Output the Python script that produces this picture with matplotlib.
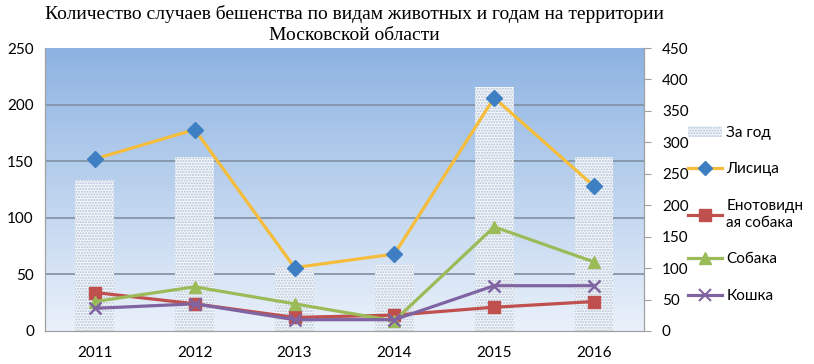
import matplotlib
matplotlib.use('Agg')
from matplotlib import pyplot as plt
from matplotlib.lines import Line2D
from matplotlib.patches import Patch
import numpy as np

############## Data ##############

years = ['2011', '2012', '2013', '2014', '2015', '2016']
total = [240, 277, 103, 107, 388, 277]          # За год (right axis)
fox = [152, 178, 56, 68, 206, 128]              # Лисица
raccoon = [34, 24, 12, 14, 21, 26]              # Енотовидная собака
dog = [26, 39, 24, 9, 92, 61]                   # Собака
cat = [20, 24, 10, 10, 40, 40]                  # Кошка

title = 'Количество случаев бешенства по видам животных и годам на территории\nМосковской области'

plt.rcParams['font.family'] = ['Lato', 'DejaVu Sans']

fig = plt.figure(figsize=(8.14, 3.64), dpi=100)
ax2 = fig.add_axes([0.0553, 0.0907, 0.7357, 0.7773])
ax = ax2.twinx()
ax.yaxis.tick_left()

x = np.arange(len(years))

# gradient background on the bottom axes
grad = np.linspace(0, 1, 256).reshape(-1, 1)
top = np.array([0x8d, 0xb3, 0xe2]) / 255
bot = np.array([0xea, 0xf1, 0xfa]) / 255
img = top * (1 - grad[:, :, None]) + bot * grad[:, :, None]
ax2.imshow(img, extent=[0, 1, 0, 1], transform=ax2.transAxes, aspect='auto', zorder=0)

ax.set_xlim(-0.5, 5.5)
ax2.set_xlim(-0.5, 5.5)
ax.set_ylim(0, 250)
ax2.set_ylim(0, 450)
left_ticks = np.arange(0, 251, 50)
ax.set_yticks(left_ticks)
ax2.set_yticks(range(0, 451, 50))

# gridlines follow the left scale, drawn below the bars
ax2.hlines(left_ticks[1:-1] * 450 / 250, -0.5, 5.5, color='#7f8fa2', lw=1.2, zorder=1)

# bars on the right axis, lines on the left one
ax2.bar(x, total, width=0.39, color='#f4f7fb', edgecolor='#b3c2d6',
        hatch='......', linewidth=0, zorder=2)

ax.plot(x, fox, color='#f5bd3b', lw=2.3, marker='D', ms=8, mfc='#3d7fc2', mec='#3d7fc2', zorder=4)
ax.plot(x, raccoon, color='#c0504d', lw=2.3, marker='s', ms=9, mfc='#c0504d', mec='#c0504d', zorder=4)
ax.plot(x, dog, color='#9bbb59', lw=2.3, marker='^', ms=9, mfc='#9bbb59', mec='#9bbb59', zorder=4)
ax.plot(x, cat, color='#8064a2', lw=2.3, marker='x', ms=9, mew=1.8, zorder=4)

ax2.set_xticks(x)
ax2.set_xticklabels(years)

for a in (ax, ax2):
    a.tick_params(labelsize=11, colors='black')
    for s in a.spines.values():
        s.set_color('#a0a0a0')
    a.spines['top'].set_visible(False)
ax.tick_params(axis='y', length=0, pad=8)
ax2.tick_params(axis='x', length=0, pad=11)
ax2.tick_params(axis='y', length=5, color='#a0a0a0', pad=8)
ax2.yaxis.tick_right()

fig.suptitle(title, family='Liberation Serif', fontsize=14, y=0.985, x=0.435, linespacing=1.25)

handles = [
    Patch(facecolor='#f4f7fb', edgecolor='#b3c2d6', hatch='......', linewidth=0),
    Line2D([], [], color='#f5bd3b', lw=2.3, marker='D', ms=7, mfc='#3d7fc2', mec='#3d7fc2'),
    Line2D([], [], color='#c0504d', lw=2.3, marker='s', ms=8, mfc='#c0504d', mec='#c0504d'),
    Line2D([], [], color='#9bbb59', lw=2.3, marker='^', ms=8, mfc='#9bbb59', mec='#9bbb59'),
    Line2D([], [], color='#8064a2', lw=2.3, marker='x', ms=8, mew=1.5),
]
labels = ['За год', 'Лисица', 'Енотовидн\nая собака', 'Собака', 'Кошка']
fig.legend(handles, labels, loc='upper left', bbox_to_anchor=(0.838, 0.672),
           frameon=False, fontsize=11, handlelength=2.2, handletextpad=0.3,
           labelspacing=1.5, borderaxespad=0)

plt.savefig('out.png', dpi=100)
